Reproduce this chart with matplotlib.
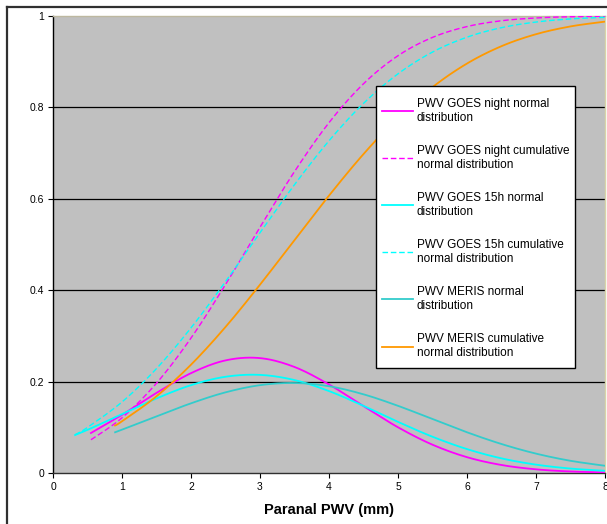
import numpy as np
import matplotlib
matplotlib.use("Agg")
import matplotlib.pyplot as plt
from matplotlib.lines import Line2D
from matplotlib.patches import Rectangle

plt.rcParams['font.family'] = ['Liberation Sans', 'DejaVu Sans']

# ---- data ----
x_night = [0.55, 1.0, 1.5, 2.0, 2.5, 3.0, 3.5, 4.0, 4.5, 5.0, 5.5, 6.0, 6.5, 7.0, 7.5, 8.0]
night_pdf = [0.0875, 0.1272, 0.1753, 0.2185, 0.2464, 0.2514, 0.2320, 0.1937, 0.1464, 0.1000,
             0.0619, 0.0346, 0.0175, 0.0080, 0.0033, 0.0012]
night_cdf = [0.0727, 0.1208, 0.1965, 0.2953, 0.4124, 0.5378, 0.6596, 0.7666, 0.8518, 0.9132,
             0.9532, 0.9769, 0.9896, 0.9957, 0.9984, 0.9994]

x_15h = [0.32, 0.5, 1.0, 1.5, 2.0, 2.5, 3.0, 3.5, 4.0, 4.5, 5.0, 5.5, 6.0, 6.5, 7.0, 7.5, 8.0]
h15_pdf = [0.0830, 0.0944, 0.1287, 0.1631, 0.1922, 0.2106, 0.2147, 0.2034, 0.1793, 0.1469,
           0.1119, 0.0793, 0.0523, 0.0320, 0.0183, 0.0097, 0.0048]
h15_cdf = [0.0838, 0.0998, 0.1554, 0.2285, 0.3176, 0.4188, 0.5258, 0.6309, 0.7270, 0.8088,
           0.8735, 0.9211, 0.9537, 0.9745, 0.9868, 0.9936, 0.9971]

x_meris = [0.9, 1.0, 1.5, 2.0, 2.5, 3.0, 3.5, 4.0, 4.5, 5.0, 5.5, 6.0, 6.5, 7.0, 7.5, 8.0]
meris_pdf = [0.0891, 0.0948, 0.1239, 0.1525, 0.1765, 0.1922, 0.1969, 0.1899, 0.1722, 0.1470,
             0.1180, 0.0891, 0.0634, 0.0424, 0.0267, 0.0158]
meris_cdf = [0.1040, 0.1132, 0.1678, 0.2370, 0.3195, 0.4121, 0.5099, 0.6070, 0.6979, 0.7780,
             0.8443, 0.8960, 0.9340, 0.9602, 0.9772, 0.9877]

labels = [
    "PWV GOES night normal\ndistribution",
    "PWV GOES night cumulative\nnormal distribution",
    "PWV GOES 15h normal\ndistribution",
    "PWV GOES 15h cumulative\nnormal distribution",
    "PWV MERIS normal\ndistribution",
    "PWV MERIS cumulative\nnormal distribution",
]
x_ticks = [0, 1, 2, 3, 4, 5, 6, 7, 8]
y_ticks = [0, 0.2, 0.4, 0.6, 0.8, 1]
y_tick_labels = ["0", "0.2", "0.4", "0.6", "0.8", "1"]


def smooth(x, y, n=16):
    """Excel-style smoothed line (Catmull-Rom Bezier)."""
    P = np.column_stack([x, y]).astype(float)
    P = np.vstack([P[0], P, P[-1]])
    out = []
    t = np.linspace(0, 1, n, endpoint=False)[:, None]
    for i in range(1, len(P) - 2):
        p0, p1, p2, p3 = P[i - 1], P[i], P[i + 1], P[i + 2]
        c1 = p1 + (p2 - p0) / 6.0
        c2 = p2 - (p3 - p1) / 6.0
        b = ((1 - t) ** 3) * p1 + 3 * ((1 - t) ** 2) * t * c1 + 3 * (1 - t) * t ** 2 * c2 + t ** 3 * p2
        out.append(b)
    out.append(P[-2][None, :])
    out = np.vstack(out)
    return out[:, 0], out[:, 1]


W, H = 607, 524
fig = plt.figure(figsize=(W / 100, H / 100), dpi=100)
ax = fig.add_axes([53 / W, 1 - 473 / H, (605 - 53) / W, (473 - 16) / H])
ax.set_facecolor('#c0c0c0')

series = [
    (x_night, night_pdf, '#ff00ff', '-'),
    (x_night, night_cdf, '#ff00ff', (0, (4, 2))),
    (x_15h, h15_pdf, '#00ffff', '-'),
    (x_15h, h15_cdf, '#00ffff', (0, (4, 2))),
    (x_meris, meris_pdf, '#33cccc', '-'),
    (x_meris, meris_cdf, '#ff9900', '-'),
]
handles = []
for (xs, ys, c, ls), lab in zip(series, labels):
    sx, sy = smooth(xs, ys)
    lw = 1.0 if ls != '-' else 1.3
    ln, = ax.plot(sx, sy, color=c, linestyle=ls, linewidth=lw, label=lab, zorder=3)
    handles.append(ln)

ax.set_xlim(0, 8)
ax.set_ylim(0, 1)
ax.set_xticks(x_ticks)
ax.set_xticklabels([str(v) for v in x_ticks])
ax.set_yticks(y_ticks)
ax.set_yticklabels(y_tick_labels)
ax.tick_params(axis='both', direction='out', length=3.5, width=0.8, labelsize=7.5, pad=3,
               colors='black')
for v in y_ticks[1:-1]:
    ax.axhline(v, color='black', linewidth=0.9, zorder=1)

ax.spines['left'].set_color('black')
ax.spines['bottom'].set_color('#303030')
ax.spines['top'].set_color('#bdb8a0')
ax.spines['right'].set_color('#d8d4a8')
for s in ax.spines.values():
    s.set_linewidth(1.0)

ax.set_xlabel("Paranal PWV (mm)", fontsize=10.5, fontweight='bold', labelpad=8)

# legend box (drawn separately so padding matches the reference)
box = Rectangle((376 / W, 1 - 368 / H), (575 - 376) / W, (368 - 86) / H,
                transform=fig.transFigure, facecolor='white', edgecolor='black',
                linewidth=1.0, zorder=4, clip_on=False)
ax.add_patch(box)

leg = ax.legend(handles=handles, loc='upper left',
                bbox_to_anchor=(382 / W, 1 - 98 / H), bbox_transform=fig.transFigure,
                borderaxespad=0, fontsize=8.5, frameon=False,
                handlelength=2.6, handletextpad=0.35,
                labelspacing=1.8, borderpad=0.0)
leg.set_zorder(5)

# outer chart border (left and top only visible)
fig.add_artist(Line2D([6.5 / W, 6.5 / W], [0, 1 - 7 / H], transform=fig.transFigure,
                      color='#303030', linewidth=1.6))
fig.add_artist(Line2D([6.5 / W, 1], [1 - 7 / H, 1 - 7 / H], transform=fig.transFigure,
                      color='#303030', linewidth=1.6))

fig.savefig("out.png", dpi=100)
